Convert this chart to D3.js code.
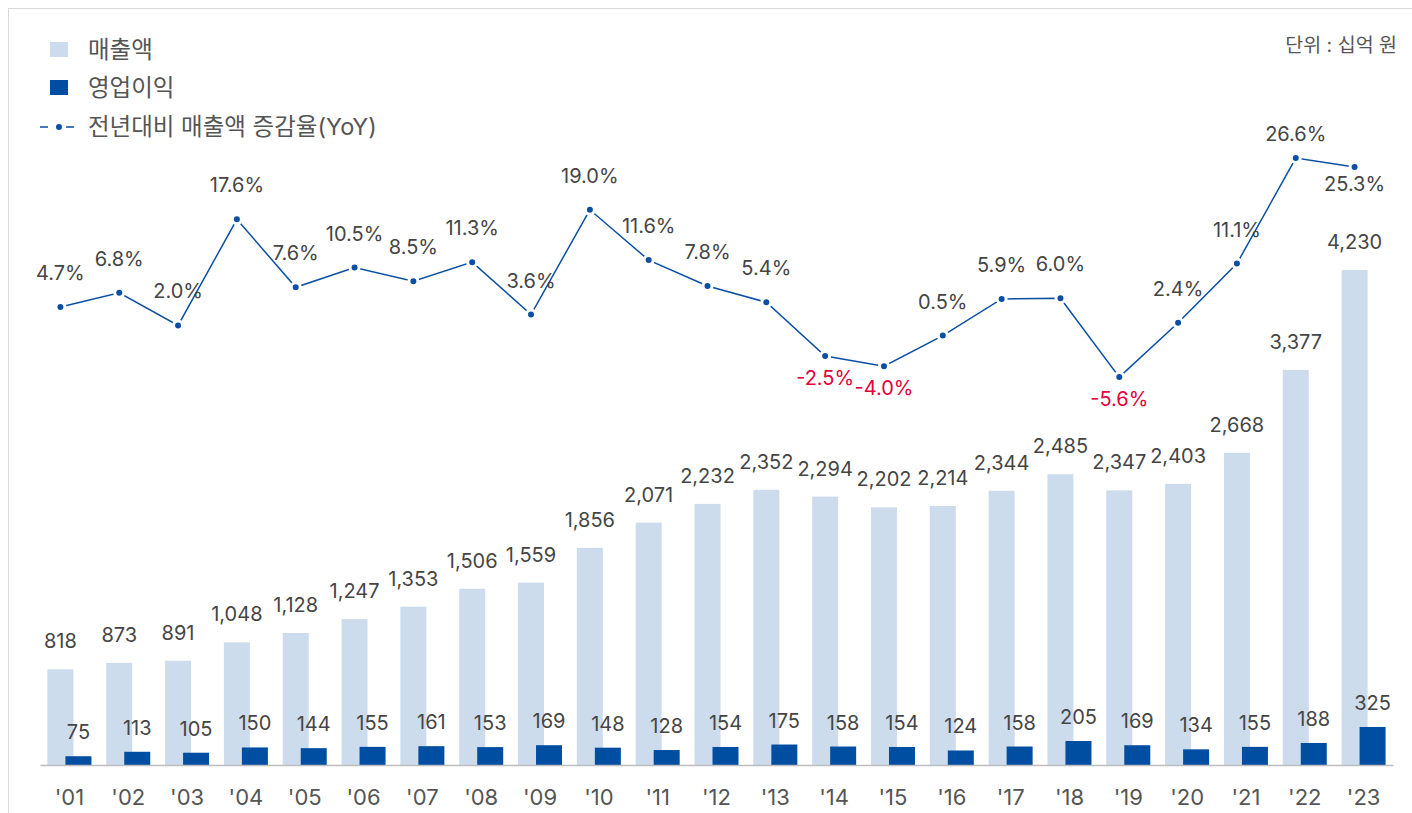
<!DOCTYPE html>
<html>
<head>
<meta charset="utf-8">
<script src="https://cdn.jsdelivr.net/npm/d3@7"></script>
<style>
  body { margin: 0; background: #fff; }
  svg { display: block; font-family: Inter, "Noto Sans CJK KR", sans-serif; }
</style>
</head>
<body>
<div id="chart"></div>
<script>
// Data (unit: 십억 원)
const years = ["'01","'02","'03","'04","'05","'06","'07","'08","'09","'10","'11","'12",
               "'13","'14","'15","'16","'17","'18","'19","'20","'21","'22","'23"];
const sales = [818, 873, 891, 1048, 1128, 1247, 1353, 1506, 1559, 1856, 2071, 2232,
               2352, 2294, 2202, 2214, 2344, 2485, 2347, 2403, 2668, 3377, 4230];
const profit = [75, 113, 105, 150, 144, 155, 161, 153, 169, 148, 128, 154,
                175, 158, 154, 124, 158, 205, 169, 134, 155, 188, 325];
const yoy = [4.7, 6.8, 2.0, 17.6, 7.6, 10.5, 8.5, 11.3, 3.6, 19.0, 11.6, 7.8,
             5.4, -2.5, -4.0, 0.5, 5.9, 6.0, -5.6, 2.4, 11.1, 26.6, 25.3];
const legendLabels = ["매출액", "영업이익", "전년대비 매출액 증감율(YoY)"];
const unitLabel = "단위 : 십억 원";

const width = 1412, height = 813;
const salesColor = "#cddcec", profitColor = "#004ea2", lineColor = "#0a4fa3";
const negColor = "#e4003a", textColor = "#454545";

const svg = d3.select("#chart").append("svg")
    .attr("width", width)
    .attr("height", height);

// frame
svg.append("rect")
    .attr("x", 8.5).attr("y", 8.5)
    .attr("width", width).attr("height", height)
    .attr("fill", "none").attr("stroke", "#d9d9d9");

// scales
const x = d3.scaleBand().domain(years).range([40, 1393]);
const y = d3.scaleLinear().domain([0, 5000]).range([765, 180]);
const yYoy = d3.scaleLinear().domain([-10, 30]).range([407, 135]);
const barW = 26, shift = 9;
const cx = d => x(d) + x.bandwidth() / 2;

// sales bars
svg.append("g").selectAll("rect")
    .data(sales)
    .join("rect")
    .attr("x", (d, i) => cx(years[i]) - shift - barW / 2)
    .attr("y", d => y(d))
    .attr("width", barW)
    .attr("height", d => y(0) - y(d))
    .attr("fill", salesColor);

// profit bars
svg.append("g").selectAll("rect")
    .data(profit)
    .join("rect")
    .attr("x", (d, i) => cx(years[i]) + shift - barW / 2)
    .attr("y", d => y(d))
    .attr("width", barW)
    .attr("height", d => y(0) - y(d))
    .attr("fill", profitColor);

// x axis
const xAxis = svg.append("g")
    .attr("transform", `translate(0,${y(0)})`)
    .call(d3.axisBottom(x).tickSize(0).tickPadding(24));
xAxis.select(".domain").attr("stroke", "#bdbdbd").attr("stroke-width", 1.5);
xAxis.selectAll("text")
    .attr("font-size", 22)
    .attr("fill", "#555")
    .attr("font-family", "Inter, 'Noto Sans CJK KR', sans-serif");

// value labels
svg.append("g").selectAll("text")
    .data(sales)
    .join("text")
    .attr("x", (d, i) => cx(years[i]) - shift)
    .attr("y", d => y(d) - 21)
    .attr("text-anchor", "middle")
    .attr("font-size", 20)
    .attr("fill", textColor)
    .text(d => d3.format(",")(d));

svg.append("g").selectAll("text")
    .data(profit)
    .join("text")
    .attr("x", (d, i) => cx(years[i]) + shift)
    .attr("y", d => y(d) - 17)
    .attr("text-anchor", "middle")
    .attr("font-size", 20)
    .attr("fill", textColor)
    .text(d => d);

// YoY line
const line = d3.line()
    .x((d, i) => cx(years[i]) - shift)
    .y(d => yYoy(d));

svg.append("path")
    .datum(yoy)
    .attr("d", line)
    .attr("fill", "none")
    .attr("stroke", lineColor)
    .attr("stroke-width", 1.5);

svg.append("g").selectAll("circle")
    .data(yoy)
    .join("circle")
    .attr("cx", (d, i) => cx(years[i]) - shift)
    .attr("cy", d => yYoy(d))
    .attr("r", 4.5)
    .attr("fill", lineColor)
    .attr("stroke", "#fff")
    .attr("stroke-width", 3);

const last = yoy.length - 1;
svg.append("g").selectAll("text")
    .data(yoy)
    .join("text")
    .attr("x", (d, i) => cx(years[i]) - shift)
    .attr("y", (d, i) => {
        const py = yYoy(d);
        if (d < 0 || i === last) return py + (i === last ? 24 : 29);
        return Math.max(py - 27, 141);
    })
    .attr("text-anchor", "middle")
    .attr("font-size", 20)
    .attr("fill", d => d < 0 ? negColor : textColor)
    .text(d => d.toFixed(1) + "%");

// legend
const legend = svg.append("g").attr("font-size", 23.5).attr("fill", "#555");
const legendY = [50, 88, 127];
legend.append("rect").attr("x", 50).attr("y", legendY[0] - 8)
    .attr("width", 18).attr("height", 15).attr("fill", salesColor);
legend.append("rect").attr("x", 50).attr("y", legendY[1] - 8)
    .attr("width", 18).attr("height", 15).attr("fill", profitColor);
legend.append("line")
    .attr("x1", 40).attr("x2", 78)
    .attr("y1", legendY[2]).attr("y2", legendY[2])
    .attr("stroke", lineColor).attr("stroke-width", 1.5)
    .attr("stroke-dasharray", "8,5");
legend.append("circle").attr("cx", 59).attr("cy", legendY[2]).attr("r", 4.5)
    .attr("fill", lineColor).attr("stroke", "#fff").attr("stroke-width", 3);
legend.selectAll("text")
    .data(legendLabels)
    .join("text")
    .attr("x", 88)
    .attr("y", (d, i) => legendY[i])
    .attr("dy", "0.35em")
    .text(d => d);

// unit label
svg.append("text")
    .attr("x", 1397).attr("y", 45).attr("dy", "0.35em")
    .attr("text-anchor", "end")
    .attr("font-size", 19.5)
    .attr("fill", "#555")
    .text(unitLabel);
</script>
</body>
</html>
